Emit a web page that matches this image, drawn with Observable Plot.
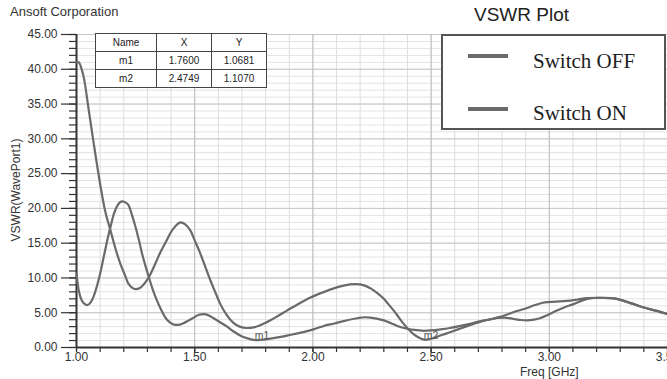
<!DOCTYPE html>
<html>
<head>
<meta charset="utf-8">
<script src="https://cdn.jsdelivr.net/npm/d3@7"></script>
<script src="https://cdn.jsdelivr.net/npm/@observablehq/plot@0.6"></script>
<style>
  html, body { margin: 0; padding: 0; background: #fff; }
  #wrap { position: relative; width: 667px; height: 379px; overflow: hidden; font-family: "Liberation Sans", Arial, sans-serif; }
  #wrap svg { position: absolute; left: 0; top: 0; }
  .abs { position: absolute; white-space: nowrap; line-height: 1; }
  #legend { position: absolute; left: 441px; top: 34px; width: 225px; height: 96px; box-sizing: border-box; border: 2px solid #555; background: #fff; }
  .sw { position: absolute; left: 25px; width: 40px; height: 4px; background: #6a6a6a; }
  .lt { position: absolute; left: 90px; font-family: "Liberation Serif", "Times New Roman", serif; font-size: 21px; line-height: 1; color: #222; }
  #mtable { position: absolute; left: 95px; top: 33px; border-collapse: collapse; background: #fff; font-size: 10px; color: #222; }
  #mtable td { border: 1.5px solid #444; text-align: center; height: 17px; padding: 0; }
</style>
</head>
<body>
<div id="wrap"></div>
<script>
// ---- data ----
const seriesNames = ["Switch OFF", "Switch ON"];

const freqOff = [1.00,1.01,1.02,1.031,1.052,1.073,1.10,1.12,1.144,1.165,1.186,1.205,1.221,1.25,1.27,1.285,1.306,1.33,1.355,1.38,1.398,1.42,1.44,1.46,1.482,1.50,1.525,1.545,1.567,1.59,1.609,1.635,1.665,1.69,1.72,1.75,1.79,1.84,1.89,1.94,1.99,2.04,2.088,2.13,2.18,2.22,2.244,2.27,2.30,2.32,2.342,2.364,2.384,2.405,2.427,2.45,2.475,2.51,2.545,2.58,2.63,2.68,2.73,2.76,2.79,2.81,2.85,2.89,2.94,2.98,3.03,3.075,3.12,3.16,3.21,3.26,3.29,3.315,3.36,3.40,3.45,3.50];
const vswrOff = [41.0,41.0,40.2,38.8,34.1,29.3,23.5,19.8,16.8,14.2,12.0,10.4,9.1,8.4,8.6,9.1,10.1,11.8,13.7,15.3,16.5,17.5,18.0,17.7,16.8,15.4,13.4,11.6,9.6,7.7,6.2,4.7,3.5,3.0,2.8,2.9,3.4,4.3,5.3,6.3,7.2,7.9,8.5,8.9,9.1,8.9,8.5,7.9,7.0,6.2,5.3,4.3,3.4,2.6,1.9,1.4,1.11,1.35,1.8,2.2,2.8,3.4,3.9,4.1,4.4,4.6,5.1,5.5,6.1,6.5,6.6,6.7,6.9,7.1,7.15,7.1,6.95,6.7,6.2,5.75,5.3,4.8];

const freqOn = [1.00,1.008,1.017,1.03,1.045,1.06,1.073,1.087,1.10,1.115,1.13,1.145,1.158,1.175,1.193,1.21,1.221,1.235,1.25,1.265,1.278,1.292,1.306,1.323,1.341,1.36,1.376,1.395,1.412,1.43,1.45,1.475,1.496,1.518,1.538,1.56,1.58,1.609,1.637,1.665,1.694,1.72,1.76,1.78,1.807,1.85,1.89,1.93,1.976,2.01,2.046,2.09,2.13,2.187,2.22,2.244,2.27,2.30,2.33,2.357,2.385,2.41,2.44,2.469,2.50,2.54,2.58,2.624,2.67,2.71,2.75,2.78,2.81,2.85,2.88,2.906,2.935,2.96,2.995,3.03,3.065,3.10,3.135,3.17,3.21,3.26,3.29,3.315,3.36,3.40,3.45,3.50];
const vswrOn = [10.6,8.5,7.2,6.4,6.1,6.5,7.4,8.9,10.6,13.0,15.4,17.5,19.2,20.5,21.0,20.8,20.4,19.0,17.3,15.3,13.4,11.7,10.1,8.3,6.7,5.3,4.3,3.6,3.3,3.25,3.45,3.9,4.3,4.7,4.8,4.6,4.2,3.6,3.0,2.3,1.7,1.35,1.07,1.1,1.2,1.45,1.7,2.0,2.35,2.7,3.1,3.45,3.8,4.2,4.35,4.3,4.15,3.9,3.5,3.1,2.8,2.6,2.5,2.4,2.45,2.6,2.8,3.1,3.45,3.8,4.05,4.25,4.3,4.1,3.95,3.9,4.0,4.2,4.7,5.3,5.8,6.2,6.7,7.05,7.15,7.1,6.95,6.7,6.2,5.75,5.3,4.8];

const markerNames = ["m1", "m2"];
const markerX = [1.7600, 2.4749];
const markerY = [1.0681, 1.1070];

const xMajorTicks = [1.0, 1.5, 2.0, 2.5, 3.0, 3.5];
const xMinorTicks = d3.range(10, 36).map(d => d / 10);
const yMajorTicks = [0, 5, 10, 15, 20, 25, 30, 35, 40, 45];
const yMinorTicks = d3.range(0, 46);

// ---- build tables ----
const lineData = [
  ...freqOff.map((f, i) => ({series: seriesNames[0], f, v: vswrOff[i]})),
  ...freqOn.map((f, i) => ({series: seriesNames[1], f, v: vswrOn[i]}))
];
const markers = markerNames.map((name, i) => ({name, x: markerX[i], y: markerY[i]}));

const chart = Plot.plot({
  width: 667,
  height: 379,
  marginLeft: 76,
  marginRight: 0,
  marginTop: 34,
  marginBottom: 32,
  style: {fontFamily: "'Liberation Sans', Arial, sans-serif", fontSize: "12px", color: "#333", background: "transparent"},
  x: {domain: [1, 3.5]},
  y: {domain: [0, 45]},
  marks: [
    Plot.gridY(yMinorTicks, {stroke: "#e3e3e3", strokeOpacity: 1}),
    Plot.gridX(xMinorTicks, {stroke: "#dedede", strokeOpacity: 1}),
    Plot.gridY(yMajorTicks, {stroke: "#c6c6c6", strokeOpacity: 1}),
    Plot.gridX(xMajorTicks, {stroke: "#bdbdbd", strokeOpacity: 1}),
    Plot.axisY(yMinorTicks, {tickSize: 7, text: null, stroke: "#333", strokeWidth: 1.2}),
    Plot.axisY(yMajorTicks, {tickSize: 15, tickPadding: 4, tickFormat: d3.format(".2f"), label: null, fontSize: 12, fill: "#333", stroke: "#333", strokeWidth: 1.2}),
    Plot.axisX(xMinorTicks, {tickSize: 5, text: null, stroke: "#333", strokeWidth: 1.2}),
    Plot.axisX(xMajorTicks, {tickSize: 5, tickPadding: 0, tickFormat: d3.format(".2f"), label: null, fontSize: 12, fill: "#333", stroke: "#333", strokeWidth: 1.2}),
    Plot.ruleX([1], {stroke: "#333", strokeWidth: 2}),
    Plot.ruleY([0], {stroke: "#333", strokeWidth: 2}),
    Plot.line(lineData, {x: "f", y: "v", z: "series", stroke: "#6a6a6a", strokeWidth: 2.2, curve: "monotone-x"}),
    Plot.text(markers, {x: "x", y: "y", text: "name", dx: 6, dy: -4, fontSize: 10.5, fill: "#555"})
  ]
});

const wrap = document.getElementById("wrap");
wrap.appendChild(chart);

function addText(txt, css) {
  const d = document.createElement("div");
  d.className = "abs";
  d.textContent = txt;
  Object.assign(d.style, css);
  wrap.appendChild(d);
  return d;
}
addText("Ansoft Corporation", {left: "10px", top: "5px", fontSize: "13px", color: "#333"});
addText("VSWR Plot", {left: "474px", top: "5px", fontSize: "19px", color: "#222"});
addText("Freq [GHz]", {left: "520px", top: "366px", fontSize: "12px", color: "#333"});
const yl = addText("VSWR(WavePort1)", {left: "16px", top: "190px", fontSize: "12px", color: "#333"});
yl.style.transform = "translate(-50%, -50%) rotate(-90deg)";

// legend
const legend = document.createElement("div");
legend.id = "legend";
seriesNames.forEach((name, i) => {
  const sw = document.createElement("div");
  sw.className = "sw";
  sw.style.top = (i === 0 ? 18 : 71) + "px";
  legend.appendChild(sw);
  const t = document.createElement("div");
  t.className = "lt";
  t.style.top = (i === 0 ? 15 : 67) + "px";
  t.textContent = name;
  legend.appendChild(t);
});
wrap.appendChild(legend);

// marker table
const table = document.createElement("table");
table.id = "mtable";
const widths = [60, 54, 54];
const rows = [["Name", "X", "Y"], ...markers.map(m => [m.name, m.x.toFixed(4), m.y.toFixed(4)])];
rows.forEach(r => {
  const tr = document.createElement("tr");
  r.forEach((c, j) => {
    const td = document.createElement("td");
    td.textContent = c;
    td.style.width = widths[j] + "px";
    tr.appendChild(td);
  });
  table.appendChild(tr);
});
wrap.appendChild(table);
</script>
</body>
</html>
